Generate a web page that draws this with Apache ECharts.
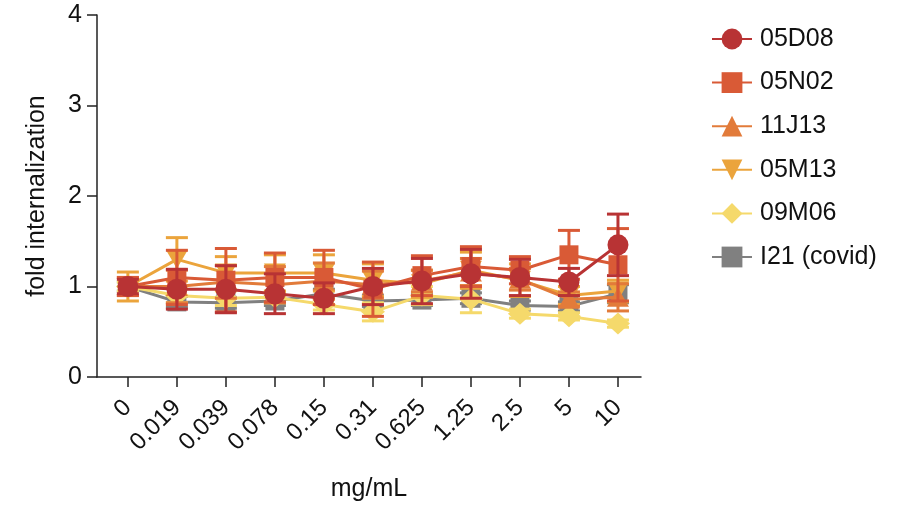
<!DOCTYPE html>
<html>
<head>
<meta charset="utf-8">
<script src="https://cdn.jsdelivr.net/npm/echarts@6/dist/echarts.min.js"></script>
<style>
  html, body { margin: 0; padding: 0; background: #fff; }
  #chart { width: 905px; height: 508px; }
</style>
</head>
<body>
<div id="chart"></div>
<script>
// concentrations (x categories)
const categories = ['0', '0.019', '0.039', '0.078', '0.15', '0.31', '0.625', '1.25', '2.5', '5', '10']
const yTicks = [0, 1, 2, 3, 4]

// mean fold internalization and error
const v05D08 = [1.0, 0.97, 0.97, 0.92, 0.87, 1.0, 1.06, 1.14, 1.1, 1.05, 1.46]
const e05D08 = [0.08, 0.22, 0.26, 0.22, 0.17, 0.2, 0.25, 0.27, 0.2, 0.15, 0.34]
const v05N02 = [1.0, 1.1, 1.07, 1.1, 1.1, 0.97, 1.12, 1.22, 1.18, 1.35, 1.24]
const e05N02 = [0.1, 0.3, 0.35, 0.27, 0.3, 0.3, 0.22, 0.22, 0.15, 0.27, 0.4]
const v11J13 = [1.0, 1.0, 1.05, 1.02, 1.06, 1.02, 1.06, 1.16, 1.08, 0.86, 0.88]
const e11J13 = [0.1, 0.18, 0.18, 0.2, 0.2, 0.15, 0.12, 0.15, 0.12, 0.08, 0.15]
const v05M13 = [1.0, 1.3, 1.15, 1.15, 1.15, 1.07, 1.03, 1.18, 1.07, 0.9, 0.95]
const e05M13 = [0.16, 0.24, 0.18, 0.2, 0.2, 0.18, 0.15, 0.2, 0.18, 0.1, 0.12]
const v09M06 = [1.0, 0.9, 0.87, 0.88, 0.8, 0.72, 0.9, 0.86, 0.7, 0.67, 0.59]
const e09M06 = [0.05, 0.08, 0.08, 0.06, 0.06, 0.1, 0.1, 0.15, 0.05, 0.04, 0.04]
const vI21 = [1.0, 0.83, 0.82, 0.84, 0.92, 0.84, 0.85, 0.87, 0.79, 0.78, 0.92]
const eI21 = [0.05, 0.06, 0.06, 0.05, 0.05, 0.06, 0.06, 0.06, 0.05, 0.05, 0.1]

// name, values, errors, colour, symbol, size, rotate
const groups = [
  ['05D08', v05D08, e05D08, '#b83334', 'circle', 21, 0],
  ['05N02', v05N02, e05N02, '#d95a36', 'rect', 19, 0],
  ['11J13', v11J13, e11J13, '#e27b3a', 'triangle', [22, 19], 0],
  ['05M13', v05M13, e05M13, '#eba43c', 'triangle', [22, 19], 180],
  ['09M06', v09M06, e09M06, '#f5d96b', 'diamond', [24, 22], 0],
  ['I21 (covid)', vI21, eI21, '#808080', 'rect', 19, 0]
]

const fontFamily = '"Liberation Sans", Arial, sans-serif'
const textColor = '#111'

const errorBar = (color) => (params, api) => {
  const x = api.value(0)
  const top = api.coord([x, api.value(2)])
  const bot = api.coord([x, api.value(1)])
  const hw = 11
  const style = { stroke: color, lineWidth: 3 }
  return {
    type: 'group',
    children: [
      { type: 'line', shape: { x1: top[0], y1: top[1], x2: bot[0], y2: bot[1] }, style },
      { type: 'line', shape: { x1: top[0] - hw, y1: top[1], x2: top[0] + hw, y2: top[1] }, style },
      { type: 'line', shape: { x1: bot[0] - hw, y1: bot[1], x2: bot[0] + hw, y2: bot[1] }, style }
    ]
  }
}

const series = []
groups.forEach((g, k) => {
  const [name, vals, errs, color, symbol, size, rot] = g
  const z = 10 + (groups.length - k) * 2
  series.push({
    name: name + ' err',
    type: 'custom',
    z: z,
    renderItem: errorBar(color),
    encode: { x: 0, y: [1, 2] },
    data: vals.map((v, i) => [i, v - errs[i], v + errs[i]]),
    silent: true
  })
  series.push({
    name: name,
    type: 'line',
    z: z + 1,
    symbol: symbol,
    symbolSize: size,
    symbolRotate: rot,
    lineStyle: { color: color, width: 3 },
    itemStyle: { color: color },
    data: vals.map((v, i) => [i, v])
  })
})

const chart = echarts.init(document.getElementById('chart'))
chart.setOption({
  animation: false,
  grid: { left: 97, right: 264, top: 15, bottom: 131 },
  legend: {
    data: groups.map(g => g[0]),
    orient: 'vertical',
    left: 706,
    top: 21,
    itemWidth: 40,
    itemHeight: 26,
    itemGap: 17.6,
    textStyle: { fontSize: 25, lineHeight: 26, color: textColor, fontFamily: fontFamily, padding: [0, 0, 0, 3] }
  },
  xAxis: {
    type: 'value',
    min: -0.63,
    max: 10.47,
    name: 'mg/mL',
    nameLocation: 'middle',
    nameGap: 100,
    nameTextStyle: { fontSize: 25, color: textColor, fontFamily: fontFamily },
    axisLine: { onZero: false, lineStyle: { color: '#222', width: 1.5 } },
    axisTick: { show: true, length: 10, lineStyle: { color: '#222', width: 1.5 }, customValues: categories.map((c, i) => i) },
    axisLabel: {
      customValues: categories.map((c, i) => i),
      formatter: v => categories[Math.round(v)],
      rotate: 45,
      margin: 27,
      fontSize: 24,
      color: textColor,
      fontFamily: fontFamily
    },
    splitLine: { show: false }
  },
  yAxis: {
    type: 'value',
    min: yTicks[0],
    max: yTicks[yTicks.length - 1],
    interval: 1,
    name: 'fold internalization',
    nameLocation: 'middle',
    nameGap: 47,
    nameTextStyle: { fontSize: 25, color: textColor, fontFamily: fontFamily },
    axisLine: { show: true, onZero: false, lineStyle: { color: '#222', width: 1.5 } },
    axisTick: { show: true, length: 10, lineStyle: { color: '#222', width: 1.5 } },
    axisLabel: { fontSize: 25, color: textColor, margin: 15, fontFamily: fontFamily },
    splitLine: { show: false }
  },
  series: series
})
</script>
</body>
</html>
